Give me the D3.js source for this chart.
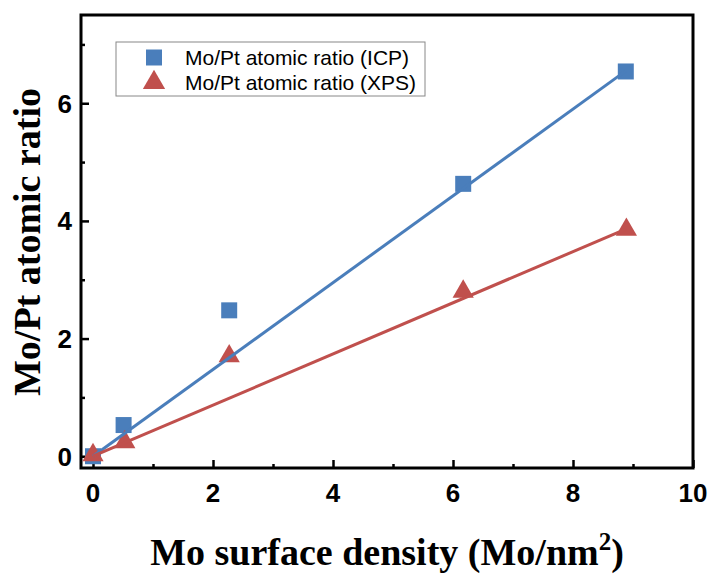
<!DOCTYPE html>
<html>
<head>
<meta charset="utf-8">
<title>Mo/Pt atomic ratio</title>
<style>
body { margin: 0; background: #fff; }
.tick-label { font-family: "Liberation Sans", Arial, sans-serif; font-weight: bold; font-size: 26px; }
.axis-title { font-family: "Liberation Serif", "Times New Roman", serif; font-weight: bold; font-size: 38px; }
.legend-text { font-family: "Liberation Sans", Arial, sans-serif; font-size: 21px; }
</style>
</head>
<body>
<script src="https://cdn.jsdelivr.net/npm/d3@7"></script>
<script>

// data
var icpX = [0, 0.51, 2.27, 6.17, 8.88];
var icpY = [0, 0.53, 2.48, 4.63, 6.54];
var xpsX = [0, 0.53, 2.27, 6.17, 8.89];
var xpsY = [0.02, 0.24, 1.70, 2.80, 3.85];
// fitted lines (end points)
var fitX = [0, 8.88];
var icpFitY = [0, 6.55];
var xpsFitY = [0, 3.86];

var xTicks = [0, 2, 4, 6, 8, 10];
var xMinor = [1, 3, 5, 7, 9];
var yTicks = [0, 2, 4, 6];
var yMinor = [1, 3, 5, 7];

var seriesNames = ["Mo/Pt atomic ratio (ICP)", "Mo/Pt atomic ratio (XPS)"];
var blue = "#4a7ebb", red = "#c0504d";

var W = 715, H = 574;
// plot box edges
var pL = 81, pR = 693, pT = 15, pB = 468;

var svg = d3.select("body").append("svg")
    .attr("width", W)
    .attr("height", H);

var x = d3.scaleLinear().domain([-0.2, 10]).range([pL, pR]);
var y = d3.scaleLinear().domain([-0.2, 7.5]).range([pB, pT]);

// ticks, pointing inward
var xAx = svg.append("g").attr("transform", "translate(0," + pB + ")")
    .call(d3.axisTop(x).tickValues(xTicks).tickSize(8).tickFormat(""));
var xAxMin = svg.append("g").attr("transform", "translate(0," + pB + ")")
    .call(d3.axisTop(x).tickValues(xMinor).tickSize(4).tickFormat(""));
var yAx = svg.append("g").attr("transform", "translate(" + pL + ",0)")
    .call(d3.axisRight(y).tickValues(yTicks).tickSize(8).tickFormat(""));
var yAxMin = svg.append("g").attr("transform", "translate(" + pL + ",0)")
    .call(d3.axisRight(y).tickValues(yMinor).tickSize(4).tickFormat(""));
[xAx, xAxMin, yAx, yAxMin].forEach(function(g) {
  g.select(".domain").remove();
  g.selectAll("line").attr("stroke", "#000").attr("stroke-width", 2.5);
});

// tick labels
svg.append("g").selectAll("text")
  .data(xTicks).enter().append("text")
    .attr("class", "tick-label")
    .attr("x", function(d) { return x(d); })
    .attr("y", 502)
    .attr("text-anchor", "middle")
    .text(function(d) { return d; });

svg.append("g").selectAll("text")
  .data(yTicks).enter().append("text")
    .attr("class", "tick-label")
    .attr("x", 72)
    .attr("y", function(d) { return y(d) + 9.5; })
    .attr("text-anchor", "end")
    .text(function(d) { return d; });

// frame
svg.append("rect")
    .attr("x", pL).attr("y", pT)
    .attr("width", pR - pL).attr("height", pB - pT)
    .attr("fill", "none").attr("stroke", "#000").attr("stroke-width", 3);

// markers
var sq = d3.symbol().type(d3.symbolSquare).size(256);
var tri = d3.symbol().type(d3.symbolTriangle).size(195);

svg.append("g").selectAll("path")
  .data(icpX).enter().append("path")
    .attr("d", sq)
    .attr("transform", function(d, i) { return "translate(" + x(d) + "," + y(icpY[i]) + ")"; })
    .attr("fill", blue);

svg.append("g").selectAll("path")
  .data(xpsX).enter().append("path")
    .attr("d", tri)
    .attr("transform", function(d, i) { return "translate(" + x(d) + "," + y(xpsY[i]) + ")"; })
    .attr("fill", red);

// fit lines
var line = d3.line().x(function(d) { return x(d[0]); }).y(function(d) { return y(d[1]); });
svg.append("path")
    .datum(fitX.map(function(d, i) { return [d, icpFitY[i]]; }))
    .attr("d", line)
    .attr("fill", "none").attr("stroke", blue).attr("stroke-width", 3);
svg.append("path")
    .datum(fitX.map(function(d, i) { return [d, xpsFitY[i]]; }))
    .attr("d", line)
    .attr("fill", "none").attr("stroke", red).attr("stroke-width", 3);

// legend
var lg = svg.append("g");
lg.append("rect")
    .attr("x", 116).attr("y", 42)
    .attr("width", 309).attr("height", 54)
    .attr("fill", "#fff").attr("stroke", "#888").attr("stroke-width", 1);
lg.append("path").attr("d", sq).attr("transform", "translate(154,57.5)").attr("fill", blue);
lg.append("path").attr("d", d3.symbol().type(d3.symbolTriangle).size(215)).attr("transform", "translate(154,82.5)").attr("fill", red);
lg.selectAll(".legend-text")
  .data(seriesNames).enter().append("text")
    .attr("class", "legend-text")
    .attr("x", 185)
    .attr("y", function(d, i) { return 65 + i * 25; })
    .text(function(d) { return d; });

// axis titles
var xt = svg.append("text")
    .attr("class", "axis-title")
    .attr("x", 387).attr("y", 565)
    .attr("text-anchor", "middle");
xt.append("tspan").text("Mo surface density (Mo/nm");
xt.append("tspan").attr("dy", -15).attr("font-size", 25).text("2");
xt.append("tspan").attr("dy", 15).text(")");

svg.append("text")
    .attr("class", "axis-title")
    .attr("transform", "translate(40,242) rotate(-90)")
    .attr("text-anchor", "middle")
    .text("Mo/Pt atomic ratio");

</script>
</body>
</html>
